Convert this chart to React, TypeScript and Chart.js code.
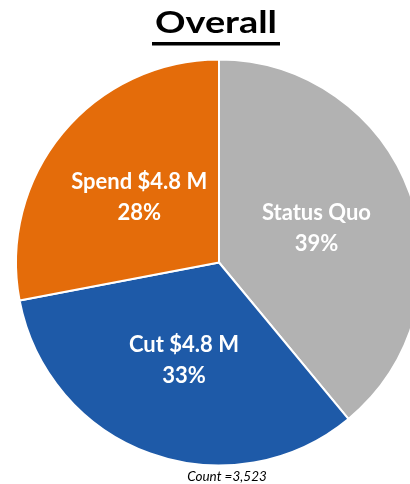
import React, { useEffect, useRef } from "react";
import { Chart, registerables } from "chart.js";

Chart.register(...registerables);

const categories = ["Status Quo", "Cut $4.8 M", "Spend $4.8 M"];
const shares = [39, 33, 28];
const percentLabels = ["39%", "33%", "28%"];
const sliceColors = ["#B2B2B2", "#1E5AA8", "#E46C0A"];
const titleText = "Overall";
const countText = "Count =3,523";

const FONT = "Lato, 'Open Sans', sans-serif";

const overlayPlugin = {
  id: "overlay",
  afterDatasetsDraw(chart: any) {
    const ctx = chart.ctx as CanvasRenderingContext2D;
    const meta = chart.getDatasetMeta(0);
    ctx.save();
    ctx.fillStyle = "#FFFFFF";
    ctx.textAlign = "center";
    ctx.textBaseline = "middle";
    ctx.font = `bold 22px ${FONT}`;
    meta.data.forEach((arc: any, i: number) => {
      const { x, y, startAngle, endAngle, outerRadius } = arc.getProps(
        ["x", "y", "startAngle", "endAngle", "outerRadius"],
        true
      );
      const mid = (startAngle + endAngle) / 2;
      const r = outerRadius * 0.51;
      const cx = x + Math.cos(mid) * r;
      const cy = y + Math.sin(mid) * r;
      ctx.fillText(categories[i], cx, cy - 15);
      ctx.fillText(percentLabels[i], cx, cy + 16);
    });
    ctx.restore();
  },
  afterDraw(chart: any) {
    const ctx = chart.ctx as CanvasRenderingContext2D;
    ctx.save();
    ctx.fillStyle = "#000000";
    ctx.textBaseline = "alphabetic";
    ctx.font = `bold 31px ${FONT}`;
    const w = ctx.measureText(titleText).width;
    const sx = 122 / w;
    ctx.save();
    ctx.translate(216, 33);
    ctx.scale(sx, 1);
    ctx.textAlign = "center";
    ctx.fillText(titleText, 0, 0);
    ctx.restore();
    ctx.fillRect(152, 42, 128, 3.5);
    ctx.textAlign = "center";
    ctx.font = `italic 13.5px ${FONT}`;
    ctx.fillText(countText, 227, 481);
    ctx.restore();
  },
};

export default function App() {
  const canvasRef = useRef<HTMLCanvasElement | null>(null);

  useEffect(() => {
    const canvas = canvasRef.current;
    if (!canvas) return;
    const chart = new Chart(canvas, {
      type: "pie",
      data: {
        labels: categories,
        datasets: [
          {
            data: shares,
            backgroundColor: sliceColors,
            borderColor: "#FFFFFF",
            borderWidth: 2,
          },
        ],
      },
      options: {
        responsive: false,
        animation: false,
        devicePixelRatio: 1,
        radius: 203,
        layout: { padding: { top: 41, bottom: 0, left: 0, right: 0 } },
        plugins: {
          legend: { display: false },
          title: { display: false },
          tooltip: { enabled: false },
        },
      } as any,
      plugins: [overlayPlugin],
    });
    return () => chart.destroy();
  }, []);

  return (
    <div
      style={{
        position: "fixed",
        left: 0,
        top: 0,
        width: 410,
        height: 484,
        overflow: "hidden",
        background: "#FFFFFF",
      }}
    >
      <canvas
        ref={canvasRef}
        width={438}
        height={484}
        style={{ width: 438, height: 484, display: "block" }}
      />
    </div>
  );
}
